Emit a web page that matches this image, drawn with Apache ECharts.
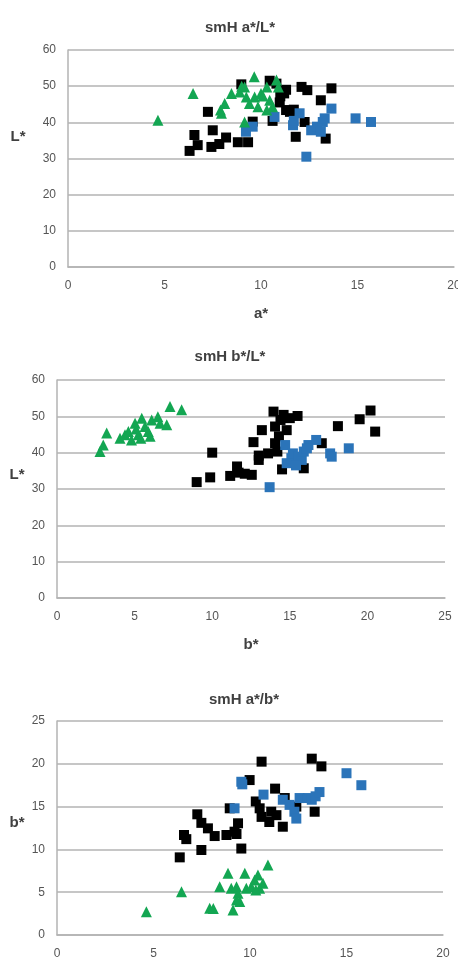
<!DOCTYPE html>
<html><head><meta charset="utf-8">
<script src="https://cdn.jsdelivr.net/npm/echarts@6/dist/echarts.min.js"></script>
<style>html,body{margin:0;padding:0;background:#fff}#c{width:458px;height:958px}</style>
</head><body><div id="c"></div>
<script>
// Chart 1: a* vs L*
const green1 = [[4.66,40.6],[6.48,48],[7.9,43.4],[7.95,42.5],[8.12,45.2],[8.47,48],[8.9,48.4],[9.15,49.8],[9.24,47],[9.4,45.2],[9.67,47],[9.65,52.6],[9.84,44.3],[9.15,40.1],[10.0,48],[10.3,49.8],[10.45,46.1],[10.8,51.7],[10.9,49.8],[10.6,44.3],[9.0,50.0],[10.1,47.3],[10.3,43.4]];
const black1 = [[6.3,32.1],[6.55,36.5],[6.72,33.7],[7.25,42.9],[7.5,37.8],[7.43,33.2],[7.84,34],[8.19,35.8],[8.8,34.5],[9.33,34.5],[8.98,50.5],[9.57,40.2],[10.45,51.5],[10.6,40.4],[10.97,45.5],[11.2,48],[11.3,43.4],[11.5,42.9],[11.8,36],[12.1,49.8],[12.4,48.9],[12.26,40.1],[13.1,46.1],[13.65,49.4],[13.35,35.5],[10.8,50.7],[11.0,47.2],[11.3,49],[11.7,43.5]];
const blue1 = [[9.22,37.4],[9.57,38.8],[10.7,41.5],[11.66,39.2],[12.0,42.5],[12.35,30.5],[12.6,37.8],[12.9,38.8],[13.1,37.4],[13.2,40.1],[13.3,41.1],[13.65,43.8],[14.9,41.1],[15.7,40.1],[11.7,40.4]];
// Chart 2: b* vs L*
const green2 = [[2.77,40.3],[2.98,42.1],[3.2,45.4],[4.06,44],[4.38,44.9],[4.6,45.8],[4.8,43.5],[5.03,48.1],[5.24,44.9],[5.46,49.5],[5.67,47.2],[5.88,45.8],[6.1,49],[6.5,49.9],[6.64,48.1],[7.07,47.7],[7.28,52.7],[8.03,51.8],[6.0,44.5],[5.4,44.0],[5.1,46.5]];
const black2 = [[9.0,31.9],[9.87,33.2],[10.0,40],[11.16,33.6],[11.6,36.2],[12.1,34.2],[12.55,33.9],[12.66,42.9],[13.0,38],[13.0,39.2],[13.2,46.2],[13.6,39.8],[13.95,51.3],[14.05,47.2],[14.05,42.6],[14.2,40.3],[14.4,49],[14.5,35.4],[14.6,50.4],[14.8,46.2],[15.0,49.5],[15.5,50.1],[15.9,35.7],[17.06,42.6],[18.1,47.3],[19.5,49.2],[20.2,51.6],[20.5,45.8],[14.3,44.5],[11.7,34.5]];
const blue2 = [[13.7,30.5],[14.7,42.1],[14.8,37.1],[15.1,38.5],[15.2,39.8],[15.56,38.9],[15.77,38],[15.9,40.3],[16.2,42.1],[16.7,43.5],[17.6,39.8],[17.7,38.9],[18.8,41.2],[16.1,41.2],[15.4,36.5]];
// Chart 3: a* vs b*
const green3 = [[4.63,2.72],[6.45,5.06],[7.91,3.12],[8.1,3.1],[8.43,5.64],[8.86,7.2],[9.03,5.45],[9.12,2.92],[9.3,5.64],[9.38,4.87],[9.47,3.9],[9.73,7.2],[9.81,5.45],[10.07,5.64],[10.24,6.42],[10.41,7.0],[10.5,5.45],[10.67,6.04],[10.93,8.18],[10.3,5.26],[9.3,4.1]];
const black3 = [[6.36,9.07],[6.58,11.68],[6.7,11.2],[7.27,14.1],[7.48,13.1],[7.48,9.93],[7.82,12.46],[8.17,11.56],[8.78,11.68],[9.2,12.07],[9.38,13.05],[8.95,14.8],[9.55,10.1],[9.98,18.1],[10.6,20.25],[10.3,15.6],[10.5,14.8],[10.6,13.8],[11.1,14.4],[11.0,13.2],[11.37,14.0],[11.3,17.1],[11.8,16],[11.7,12.65],[12.4,15],[13.2,20.6],[13.7,19.7],[13.35,14.4],[9.3,11.8]];
const blue3 = [[9.55,17.9],[9.2,14.8],[10.7,16.4],[11.7,15.8],[12.05,15.2],[12.3,14.4],[12.4,13.6],[12.57,16],[13.0,16],[13.2,15.8],[13.4,16.2],[13.6,16.7],[15.0,18.9],[15.77,17.5],[9.6,17.6]];

const titles = ['smH a*/L*','smH b*/L*','smH a*/b*'];
const xNames = ['a*','b*','a*'];
const yNames = ['L*','L*','b*'];
const xMax = [20,25,20];
const yMax = [60,60,25];
const yStep = [10,10,5];

const FONT = 'Liberation Sans';
const GRAY = '#b3b3b3';
const grids = [
  {left:68, width:386, top:50, height:217, outerBoundsMode:'none'},
  {left:57, width:388, top:380, height:218, outerBoundsMode:'none'},
  {left:57, width:386, top:721, height:214, outerBoundsMode:'none'}
];
const titlePos = [{x:235,y:23},{x:225,y:352},{x:239,y:695}];
const yNamePos = [{x:18,y:137},{x:17,y:475},{x:17,y:823}];

const colors = {black:'#000000', blue:'#2b74b9', green:'#13a652'};
const groups = [[black1,blue1,green1],[black2,blue2,green2],[black3,blue3,green3]];

const option = {
  animation:false,
  title: titles.map((t,i)=>({text:t,left:titlePos[i].x,top:titlePos[i].y,textAlign:'center',textVerticalAlign:'middle',
    textStyle:{fontFamily:FONT,fontSize:15,fontWeight:'bold',color:'#404040'}})),
  graphic: yNames.map((n,i)=>({type:'text',x:yNamePos[i].x,y:yNamePos[i].y,
    style:{text:n,fontFamily:FONT,fontSize:15,fontWeight:'bold',fill:'#404040',align:'center',verticalAlign:'middle'}})),
  grid: grids,
  xAxis: grids.map((g,i)=>({type:'value',gridIndex:i,min:0,max:xMax[i],interval:5,
    name:xNames[i],nameLocation:'middle',nameGap:39,
    nameTextStyle:{fontFamily:FONT,fontSize:15,fontWeight:'bold',color:'#404040'},
    axisLine:{show:true,lineStyle:{color:GRAY,width:1.5}},axisTick:{show:false},
    axisLabel:{fontFamily:FONT,fontSize:12,color:'#555555',margin:13},splitLine:{show:false}})),
  yAxis: grids.map((g,i)=>({type:'value',gridIndex:i,min:0,max:yMax[i],interval:yStep[i],
    axisLine:{show:true,lineStyle:{color:GRAY,width:1.5}},axisTick:{show:false},
    axisLabel:{fontFamily:FONT,fontSize:12,color:'#555555',margin:12},
    splitLine:{show:true,lineStyle:{color:GRAY,width:1.5}}})),
  series: []
};
groups.forEach((g,i)=>{
  const [bk,bl,gr] = g;
  option.series.push({type:'scatter',xAxisIndex:i,yAxisIndex:i,data:bk,symbol:'rect',symbolSize:10,itemStyle:{color:colors.black,opacity:1}});
  option.series.push({type:'scatter',xAxisIndex:i,yAxisIndex:i,data:bl,symbol:'rect',symbolSize:10,itemStyle:{color:colors.blue,opacity:1}});
  option.series.push({type:'scatter',xAxisIndex:i,yAxisIndex:i,data:gr,symbol:'triangle',symbolSize:11,itemStyle:{color:colors.green,opacity:1}});
});
const chart = echarts.init(document.getElementById('c'),null,{renderer:'canvas'});
chart.setOption(option);
</script></body></html>
